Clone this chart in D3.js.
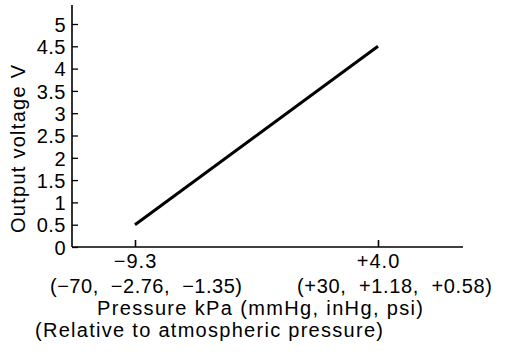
<!DOCTYPE html>
<html><head><meta charset="utf-8">
<script src="https://cdn.jsdelivr.net/npm/d3@7"></script>
<style>
body{margin:0;background:#fff;}
text{font-family:"Liberation Sans",Arial,Helvetica,sans-serif;fill:#000;}
</style></head>
<body><svg id="c" width="512" height="360"></svg>
<script>
const pressureKPa = [-9.3, 4.0];
const outputV = [0.5, 4.5];
const xTickValues = [-9.3, 4.0];
const xTickLabels = ["\u22129.3", "+4.0"];
const xSubLabels = ["(\u221270,  \u22122.76,  \u22121.35)", "(+30,  +1.18,  +0.58)"];
const yTickValues = [0,0.5,1,1.5,2,2.5,3,3.5,4,4.5,5];
const xTitle = "Pressure kPa (mmHg, inHg, psi)";
const xTitle2 = "(Relative to atmospheric pressure)";
const yTitle = "Output voltage V";

const svg = d3.select("#c");
const FONT = '"Liberation Sans",Arial,sans-serif';
const x = d3.scaleLinear().domain([-9.3, 4.0]).range([135, 378]);
const y = d3.scaleLinear().domain([0, 5]).range([247, 24]);
const xLeft = 72, xRight = 463, yTop = 5;

// axes lines
svg.append("line").attr("x1", xLeft).attr("x2", xLeft).attr("y1", yTop).attr("y2", y(0))
  .attr("stroke","#000").attr("stroke-width",1.6);
svg.append("line").attr("x1", xLeft).attr("x2", xRight).attr("y1", y(0)).attr("y2", y(0))
  .attr("stroke","#000").attr("stroke-width",1.6);

// y axis
const yAxis = d3.axisRight(y).tickValues(yTickValues).tickSize(6).tickFormat(d3.format("~g"));
const gy = svg.append("g").attr("transform",`translate(${xLeft},0)`).call(yAxis);
gy.select(".domain").remove();
gy.selectAll(".tick line").attr("stroke","#000").attr("stroke-width",1.3);
gy.selectAll(".tick text").attr("x",-6).attr("text-anchor","end").attr("dy","0.36em")
  .style("font-size","20px").style("font-family",FONT).style("letter-spacing","0.5px");

// x axis
const xAxis = d3.axisTop(x).tickValues(xTickValues).tickSize(7).tickFormat((d,i)=>xTickLabels[i]);
const gx = svg.append("g").attr("transform",`translate(0,${y(0)})`).call(xAxis);
gx.select(".domain").remove();
gx.selectAll(".tick line").attr("stroke","#000").attr("stroke-width",1.6);
gx.selectAll(".tick text").attr("y",21).attr("dy",0).style("font-size","20px")
  .style("font-family",FONT).style("letter-spacing","1px");

// sub labels
const subX = [146, 394.5], subW = [192, 195];
svg.selectAll("text.sub").data(xSubLabels).enter().append("text").attr("class","sub")
  .attr("x",(d,i)=>subX[i]).attr("y",293).attr("text-anchor","middle")
  .attr("textLength",(d,i)=>subW[i]).attr("lengthAdjust","spacing")
  .style("font-size","20px").style("white-space","pre").text(d=>d);

svg.append("text").attr("x",260).attr("y",315).attr("text-anchor","middle")
  .attr("textLength",326).attr("lengthAdjust","spacing")
  .style("font-size","20px").text(xTitle);
svg.append("text").attr("x",209).attr("y",337).attr("text-anchor","middle")
  .attr("textLength",348).attr("lengthAdjust","spacing")
  .style("font-size","20px").text(xTitle2);

svg.append("text").attr("transform","translate(25,149) rotate(-90)").attr("text-anchor","middle")
  .attr("textLength",168).attr("lengthAdjust","spacing")
  .style("font-size","20px").text(yTitle);

// data line
const pts = pressureKPa.map((p,i)=>[p, outputV[i]]);
svg.append("path").datum(pts)
  .attr("d", d3.line().x(d=>x(d[0])).y(d=>y(d[1])))
  .attr("fill","none").attr("stroke","#000").attr("stroke-width",3);
</script></body></html>
